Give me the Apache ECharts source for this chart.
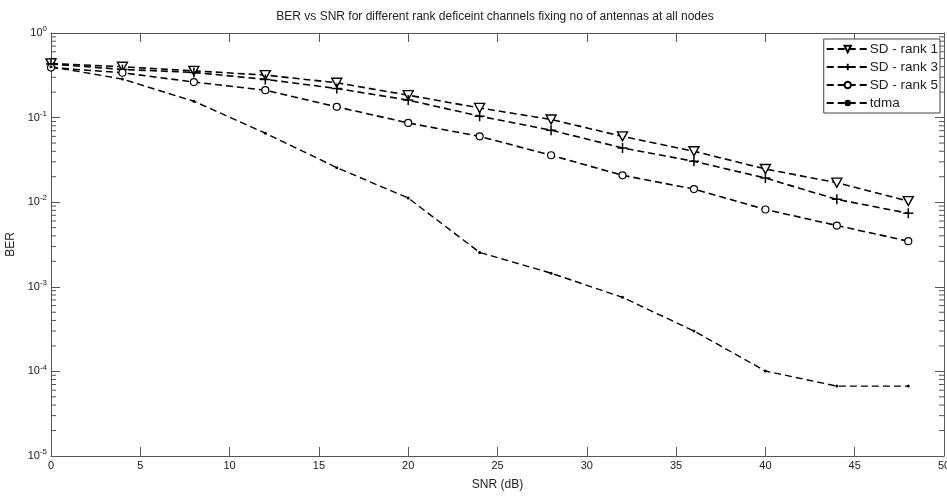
<!DOCTYPE html>
<html>
<head>
<meta charset="utf-8">
<script src="https://cdn.jsdelivr.net/npm/echarts@6/dist/echarts.min.js"></script>
<style>
html,body{margin:0;padding:0;background:#fff;}
#c{width:947px;height:496px;}
</style>
</head>
<body>
<div id="c"></div>
<script>
var snr = [0, 4, 8, 12, 16, 20, 24, 28, 32, 36, 40, 44, 48];
var rank1 = [0.437, 0.399, 0.357, 0.318, 0.258, 0.184, 0.130, 0.095, 0.060, 0.040, 0.0247, 0.0170, 0.0103];
var rank3 = [0.43, 0.371, 0.342, 0.283, 0.221, 0.161, 0.104, 0.071, 0.0438, 0.0304, 0.0193, 0.0108, 0.0074];
var rank5 = [0.39, 0.339, 0.263, 0.211, 0.134, 0.0865, 0.060, 0.0359, 0.0208, 0.0143, 0.0082, 0.0053, 0.00346];
var tdma = [0.40, 0.285, 0.156, 0.0654, 0.0256, 0.0112, 0.00255, 0.00145, 0.00075, 0.00030, 0.000101, 0.000067, 0.000067];
var seriesNames = ['SD - rank 1', 'SD - rank 3', 'SD - rank 5', 'tdma'];
var xTicks = [0, 5, 10, 15, 20, 25, 30, 35, 40, 45, 50];
var yDecades = [-5, -4, -3, -2, -1, 0];
var minorMult = [2, 3, 4, 5, 6, 7, 8, 9];

var minorVals = [];
for (var d = -5; d < 0; d++) {
  for (var m = 0; m < minorMult.length; m++) {
    minorVals.push([0, minorMult[m] * Math.pow(10, d)]);
  }
}
function pairs(ys) { return snr.map(function (x, i) { return [x, ys[i]]; }); }

var axisCol = '#555';
var txtCol = '#222';
var font = 'Liberation Sans, Arial, sans-serif';

var lineStyle = { color: '#000', width: 1.6, type: [7, 4] };

var chart = echarts.init(document.getElementById('c'), null, { renderer: 'canvas' });
chart.setOption({
  backgroundColor: '#fff',
  animation: false,
  title: {
    text: 'BER vs SNR for different rank deficeint channels fixing no of antennas at all nodes',
    left: 490, top: 6, textAlign: 'center',
    textStyle: { fontSize: 12, fontWeight: 'normal', color: txtCol, fontFamily: font }
  },
  grid: { left: 51, top: 33, right: 3, bottom: 40, containLabel: false, outerBoundsMode: 'none' },
  legend: {
    data: seriesNames,
    orient: 'vertical',
    right: 7, top: 39,
    backgroundColor: '#fff',
    borderColor: '#444', borderWidth: 1, borderRadius: 0,
    padding: [3, 2, 3, 2],
    itemGap: 4, itemWidth: 42, itemHeight: 8,
    textStyle: { fontSize: 13.5, color: txtCol, fontFamily: font, padding: [0, 0, 0, -4] }
  },
  xAxis: [{
    type: 'value', min: 0, max: 50, interval: 5, position: 'bottom',
    name: 'SNR (dB)', nameLocation: 'middle', nameGap: 23,
    nameTextStyle: { fontSize: 12, color: txtCol, fontFamily: font },
    axisLine: { show: true, onZero: false, lineStyle: { color: axisCol, width: 1 } },
    axisTick: { show: true, inside: true, length: 9, lineStyle: { color: axisCol } },
    axisLabel: { fontSize: 11, color: txtCol, fontFamily: font, margin: 4 },
    splitLine: { show: false }
  }, {
    type: 'value', min: 0, max: 50, interval: 5, position: 'top',
    axisLine: { show: true, onZero: false, lineStyle: { color: axisCol, width: 1 } },
    axisTick: { show: true, inside: true, length: 9, lineStyle: { color: axisCol } },
    axisLabel: { show: false },
    splitLine: { show: false }
  }],
  yAxis: [{
    type: 'log', logBase: 10, min: 1e-5, max: 1, position: 'left',
    name: 'BER', nameLocation: 'middle', nameGap: 28, nameRotate: 90,
    nameTextStyle: { fontSize: 12, color: txtCol, fontFamily: font },
    axisLine: { show: true, onZero: false, lineStyle: { color: axisCol, width: 1 } },
    axisTick: { show: true, inside: true, length: 9, lineStyle: { color: axisCol } },
    axisLabel: {
      margin: 4, color: txtCol, fontFamily: font,
      formatter: function (v) {
        var e = Math.round(Math.log10(v));
        return '{b|10}{s|' + e + '}';
      },
      rich: {
        b: { fontSize: 11, color: txtCol, fontFamily: font },
        s: { fontSize: 8, color: txtCol, fontFamily: font, padding: [0, 0, 8, 0] }
      }
    },
    splitLine: { show: false }
  }, {
    type: 'log', logBase: 10, min: 1e-5, max: 1, position: 'right',
    axisLine: { show: true, onZero: false, lineStyle: { color: axisCol, width: 1 } },
    axisTick: { show: true, inside: true, length: 9, lineStyle: { color: axisCol } },
    axisLabel: { show: false },
    splitLine: { show: false }
  }],
  series: [{
    name: 'minor', type: 'custom', silent: true, xAxisIndex: 0, yAxisIndex: 0,
    data: minorVals, clip: false, legendHoverLink: false,
    renderItem: function (params, api) {
      var v = api.value(1);
      var pl = api.coord([0, v]);
      var pr = api.coord([50, v]);
      return {
        type: 'group',
        children: [
          { type: 'line', shape: { x1: pl[0], y1: pl[1], x2: pl[0] + 5, y2: pl[1] }, style: { stroke: axisCol, lineWidth: 1 } },
          { type: 'line', shape: { x1: pr[0], y1: pr[1], x2: pr[0] - 5, y2: pr[1] }, style: { stroke: axisCol, lineWidth: 1 } }
        ]
      };
    }
  }, {
    name: seriesNames[0], type: 'line', data: pairs(rank1),
    symbol: 'path://M0,0 L10,0 L5,10 Z', symbolSize: [10, 9],
    itemStyle: { color: '#fff', borderColor: '#000', borderWidth: 1.4 },
    lineStyle: lineStyle, z: 5
  }, {
    name: seriesNames[1], type: 'line', data: pairs(rank3),
    symbol: 'path://M5,0 L5,10 M0,5 L10,5', symbolSize: 10,
    itemStyle: { color: 'rgba(0,0,0,0)', borderColor: '#000', borderWidth: 1.5 },
    lineStyle: lineStyle, z: 5
  }, {
    name: seriesNames[2], type: 'line', data: pairs(rank5),
    symbol: 'circle', symbolSize: 7,
    itemStyle: { color: '#fff', borderColor: '#000', borderWidth: 1.2 },
    lineStyle: lineStyle, z: 5
  }, {
    name: seriesNames[3], type: 'line', data: pairs(tdma),
    symbol: 'circle', symbolSize: 3,
    itemStyle: { color: '#000', borderColor: '#000', borderWidth: 0 },
    lineStyle: { color: '#000', width: 1.4, type: [7, 4] }, z: 5
  }]
});
</script>
</body>
</html>
